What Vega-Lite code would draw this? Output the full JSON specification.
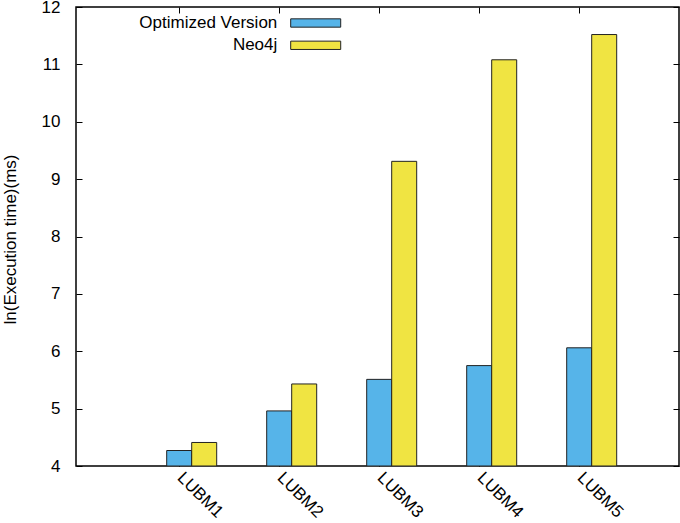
{
  "$schema": "https://vega.github.io/schema/vega-lite/v6.json",
  "autosize": "none",
  "padding": {"left": 76, "top": 7, "right": 1, "bottom": 57},
  "width": 603,
  "height": 459,
  "background": "white",
  "config": {
    "font": "Liberation Sans",
    "view": {"stroke": "#000000", "strokeWidth": 1.5},
    "axis": {"labelFont": "Liberation Sans", "titleFont": "Liberation Sans", "labelColor": "#000000", "titleColor": "#000000", "tickColor": "#000000", "grid": false, "domain": false},
    "legend": {"labelFont": "Liberation Sans"}
  },
  "data": {
    "values": [
      {"dataset": "LUBM1", "series": "Optimized Version", "value": 4.27},
      {"dataset": "LUBM1", "series": "Neo4j", "value": 4.41},
      {"dataset": "LUBM2", "series": "Optimized Version", "value": 4.96},
      {"dataset": "LUBM2", "series": "Neo4j", "value": 5.43},
      {"dataset": "LUBM3", "series": "Optimized Version", "value": 5.51},
      {"dataset": "LUBM3", "series": "Neo4j", "value": 9.31},
      {"dataset": "LUBM4", "series": "Optimized Version", "value": 5.75},
      {"dataset": "LUBM4", "series": "Neo4j", "value": 11.08},
      {"dataset": "LUBM5", "series": "Optimized Version", "value": 6.06},
      {"dataset": "LUBM5", "series": "Neo4j", "value": 11.52}
    ]
  },
  "layer": [
    {
      "mark": {"type": "bar", "stroke": "#222222", "strokeWidth": 1, "clip": true},
      "encoding": {
        "x": {
          "field": "dataset", "type": "nominal", "sort": null,
          "scale": {"type": "band", "range": [65.7, 565.7], "paddingInner": 0.5, "paddingOuter": 0.25},
          "axis": {"orient": "bottom", "title": null, "bandPosition": 0.25, "labelAngle": 45, "labelAlign": "left", "labelBaseline": "top", "labelFontSize": 17, "tickSize": -6, "labelPadding": 9, "labelOffset": -6}
        },
        "xOffset": {"field": "series", "type": "nominal", "sort": null, "scale": {"domain": ["Optimized Version", "Neo4j"], "paddingInner": 0, "paddingOuter": 0}},
        "y": {
          "field": "value", "type": "quantitative",
          "scale": {"domain": [4, 12], "nice": false, "zero": false},
          "axis": {"orient": "left", "values": [4, 5, 6, 7, 8, 9, 10, 11, 12], "tickSize": -6, "labelPadding": 22, "labelFontSize": 17, "title": "ln(Execution time)(ms)", "titleFontSize": 17, "titleFontWeight": "normal", "titleX": -66, "titleY": 232, "titleAngle": -90, "titleAlign": "center", "titleBaseline": "middle"}
        },
        "y2": {"datum": 4},
        "color": {
          "field": "series", "type": "nominal", "sort": null,
          "scale": {"domain": ["Optimized Version", "Neo4j"], "range": ["#56B4E9", "#F0E442"]},
          "legend": {
            "title": null, "orient": "none", "legendX": 230.7, "legendY": 7, "padding": 0,
            "symbolType": "M-3,-0.5H3V0.5H-3Z", "symbolSize": 278, "symbolStrokeColor": "#222222", "symbolStrokeWidth": 1, "symbolOpacity": 1,
            "rowPadding": 5.3, "labelFontSize": 17, "labelColor": "#000000", "labelAlign": "right", "labelOffset": -47.4, "labelLimit": 300
          }
        }
      }
    },
    {
      "mark": {"type": "bar", "opacity": 0, "clip": true},
      "encoding": {
        "x": {
          "field": "dataset", "type": "nominal", "sort": null,
          "axis": {"orient": "top", "title": null, "bandPosition": 0.25, "labels": false, "tickSize": -6}
        },
        "xOffset": {"field": "series", "type": "nominal", "sort": null},
        "y": {
          "field": "value", "type": "quantitative",
          "axis": {"orient": "right", "values": [4, 5, 6, 7, 8, 9, 10, 11, 12], "labels": false, "tickSize": -6, "title": null}
        },
        "y2": {"datum": 4}
      }
    }
  ],
  "resolve": {"axis": {"x": "independent", "y": "independent"}}
}
